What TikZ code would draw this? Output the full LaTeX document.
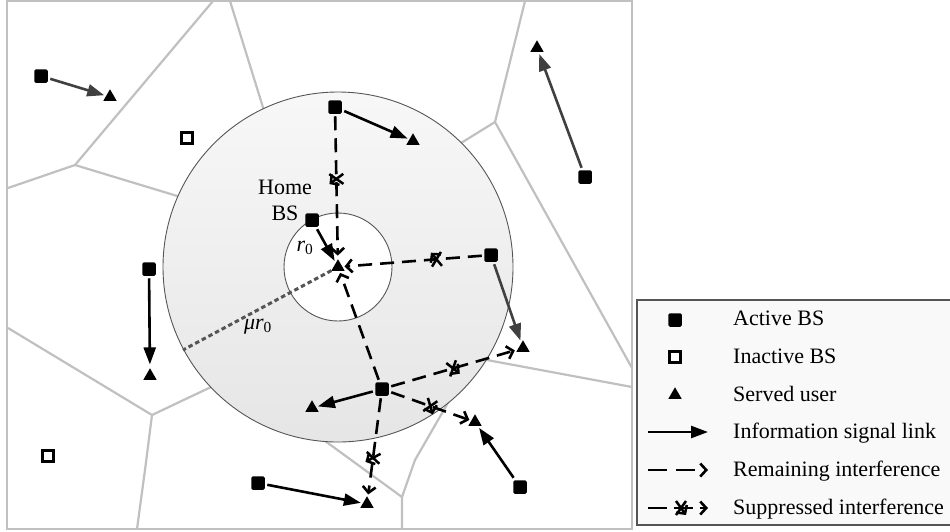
\documentclass[tikz,border=0pt]{standalone}
\usepackage{fontspec}
\setmainfont{Liberation Serif}
\usetikzlibrary{shapes.geometric, arrows.meta, decorations.markings}
\definecolor{cellgray}{RGB}{192,192,192}
\definecolor{linkgray}{RGB}{64,64,64}
\definecolor{rimgray}{RGB}{85,85,85}

\begin{document}
\begin{tikzpicture}[x=1pt, y=-1pt, font=\fontsize{22}{26}\selectfont,
    active/.style={fill=black, rounded corners=1.5pt, minimum size=13.5pt, inner sep=0pt, outer sep=2.5pt},
    inactive/.style={draw=black, line width=2.4pt, fill=white, minimum size=11pt, inner sep=0pt, outer sep=3pt},
    user/.style={regular polygon, regular polygon sides=3, fill=black, minimum size=15.5pt, inner sep=0pt, outer sep=2pt},
    cell/.style={draw=cellgray, line width=2.2pt},
    signal/.style={line width=2.6pt, -{Triangle[length=17pt, width=12pt]}},
    interf/.style={line width=2.6pt, dash pattern=on 14pt off 8pt, -{Straight Barb[length=6pt, width=13pt]}},
    xcut/.style={postaction={decorate, decoration={markings, mark=at position #1 with {\draw[solid, line width=2.5pt] (-5pt,-7pt) -- (5pt,7pt) (-5pt,7pt) -- (5pt,-7pt);}}}},
    keytext/.style={anchor=base west, inner sep=0pt}]
    \useasboundingbox (0,0) rectangle (950,531);

    % cells
    \draw[cell] (7,1) rectangle (632,529);
    \draw[cell] (213,1) -- (75,165) -- (8,188);
    \draw[cell] (75,165) -- (230,212);
    \draw[cell] (230,1) -- (270,130);
    \draw[cell] (525,1) -- (495,122) -- (632,368);
    \draw[cell] (495,122) -- (440,156);
    \draw[cell] (632,387) -- (460,355);
    \draw[cell] (402,529) -- (402,497) -- (415,460) -- (445,408) -- (455,390);
    \draw[cell] (402,497) -- (310,430);
    \draw[cell] (8,328) -- (152,415) -- (230,378);
    \draw[cell] (152,415) -- (145,470) -- (137,529);

    % guard zone
    \coordinate (c) at (338,267);
    \coordinate (rim) at (183,350);
    \draw[rimgray, line width=0.9pt, top color=gray!6, bottom color=gray!20] (c) circle[radius=175pt];
    \draw[rimgray, line width=0.9pt, fill=white] (c) circle[radius=54pt];
    \draw[rimgray, line width=3pt, dash pattern=on 4.5pt off 3pt] (c) -- (rim);

    \node[align=center] (home-label) at (285,200) {Home\\BS};
    \node (r-label) at (305,248) {\textit{r}\textsubscript{0}};
    \node (mu-label) at (258,327) {\textit{μr}\textsubscript{0}};

    % base stations and users
    \node[active] (bs-home) at (312,220) {};
    \node[user] (u-home) at (338,267) {};
    \node[active] (bs-a) at (41,76) {};
    \node[user] (u-a) at (110,97) {};
    \node[active] (bs-b) at (335,107) {};
    \node[user] (u-b) at (413,141) {};
    \node[active] (bs-c) at (491,255) {};
    \node[user] (u-c) at (523,348) {};
    \node[active] (bs-d) at (149,269) {};
    \node[user] (u-d) at (150,376) {};
    \node[active] (bs-e) at (382,389) {};
    \node[user] (u-e) at (312,408) {};
    \node[active] (bs-f) at (585,177) {};
    \node[user] (u-f) at (537,48) {};
    \node[active] (bs-g) at (258,483) {};
    \node[user] (u-g) at (367,504) {};
    \node[active] (bs-h) at (520,487) {};
    \node[user] (u-h) at (475,422) {};
    \node[inactive] (bs-off-a) at (187,138) {};
    \node[inactive] (bs-off-b) at (48,456) {};

    \draw[signal, linkgray] (bs-a) -- (u-a);
    \draw[signal] (bs-b) -- (u-b);
    \draw[signal] (bs-home) -- (u-home);
    \draw[signal, linkgray] (bs-c) -- (u-c);
    \draw[signal] (bs-d) -- (u-d);
    \draw[signal] (bs-e) -- (u-e);
    \draw[signal, linkgray] (bs-f) -- (u-f);
    \draw[signal] (bs-g) -- (u-g);
    \draw[signal] (bs-h) -- (u-h);

    \draw[interf, xcut=0.45] (bs-b) -- (u-home);
    \draw[interf, xcut=0.33] (bs-c) -- (u-home);
    \draw[interf] (bs-e) -- (u-home);
    \draw[interf, xcut=0.5] (bs-e) -- (u-c);
    \draw[interf, xcut=0.5] (bs-e) -- (u-h);
    \draw[interf, xcut=0.62] (bs-e) -- (u-g);

    % legend
    \draw[rimgray, line width=1.2pt, fill=gray!5] (637,300) rectangle (955,525);
    \node[active] (key-active) at (675,320) {};
    \node[inactive] (key-inactive) at (675,357) {};
    \node[user] (key-user) at (675,395) {};
    \coordinate (key-sig-a) at (648,432);
    \coordinate (key-sig-b) at (708,432);
    \coordinate (key-rem-a) at (648,470);
    \coordinate (key-rem-b) at (708,470);
    \coordinate (key-sup-a) at (648,508);
    \coordinate (key-sup-b) at (708,508);
    \draw[signal] (key-sig-a) -- (key-sig-b);
    \draw[interf, dash pattern=on 19pt off 9pt] (key-rem-a) -- (key-rem-b);
    \draw[interf, dash pattern=on 19pt off 7pt, xcut=0.55] (key-sup-a) -- (key-sup-b);
    \node[keytext] (txt-active) at (733,325) {Active BS};
    \node[keytext] (txt-inactive) at (733,363) {Inactive BS};
    \node[keytext] (txt-user) at (733,401) {Served user};
    \node[keytext] (txt-sig) at (733,438) {Information signal link};
    \node[keytext] (txt-rem) at (733,476) {Remaining interference};
    \node[keytext] (txt-sup) at (733,514) {Suppressed interference};

\end{tikzpicture}
\end{document}
